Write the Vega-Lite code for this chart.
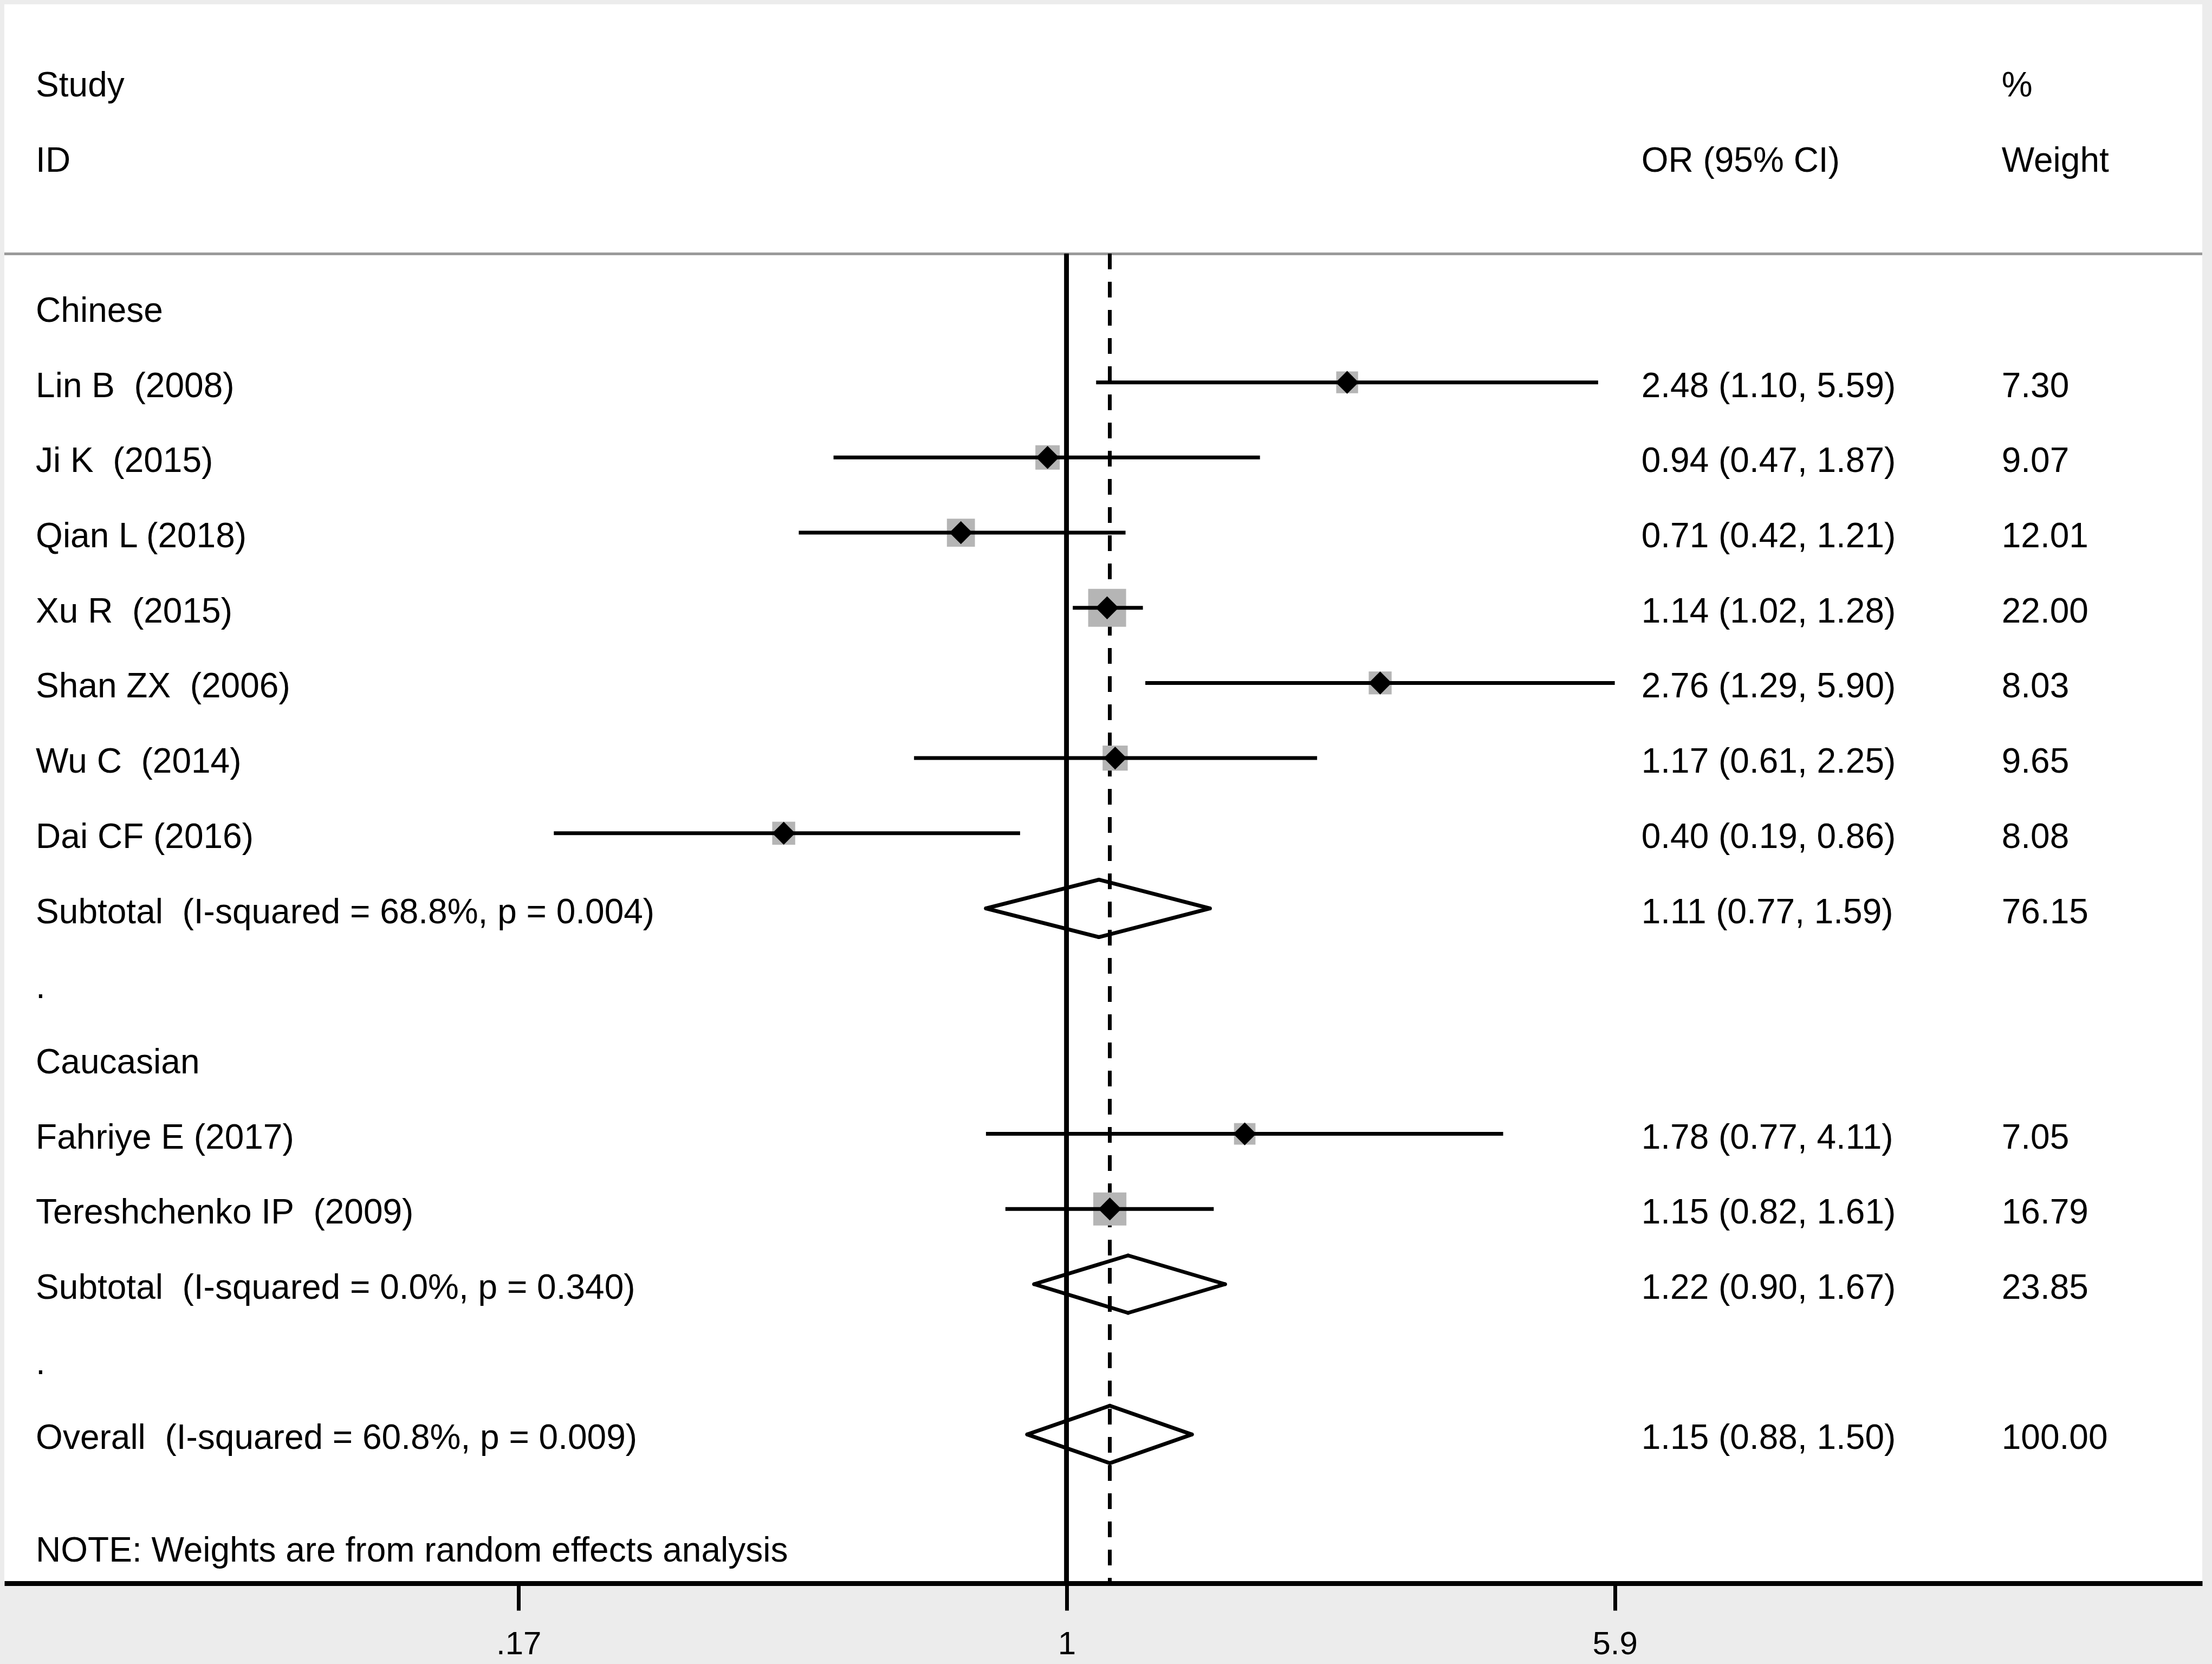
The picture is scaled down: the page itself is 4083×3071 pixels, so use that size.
{
  "$schema": "https://vega.github.io/schema/vega-lite/v6.json",
  "width": 4057,
  "height": 2914,
  "autosize": {"type": "none"},
  "padding": {"left": 8, "top": 8, "right": 18, "bottom": 149},
  "background": "#ececec",
  "view": {"fill": "white", "stroke": null},
  "config": {
    "font": "Liberation Sans",
    "text": {"font": "Liberation Sans", "fontSize": 64, "color": "black", "align": "left", "baseline": "middle", "dy": 8},
    "axisX": {"title": null, "grid": false, "domainColor": "black", "domainWidth": 9, "tickColor": "black", "tickWidth": 7, "tickSize": 50, "labelFontSize": 60, "labelColor": "black", "labelFont": "Liberation Sans", "labelPadding": 33, "labelFlush": false, "labelOverlap": false},
    "axisY": {"disable": true}
  },
  "encoding": {
    "y": {"field": "row", "type": "quantitative", "scale": {"domain": [-3.03, 17.98], "reverse": true, "nice": false, "zero": false}, "axis": null}
  },
  "data": {
    "values": [
      {"row": -2, "label": "Study", "wtxt": "%"},
      {"row": -1, "label": "ID", "ci": "OR (95% CI)", "wtxt": "Weight"},
      {"row": 1, "label": "Chinese"},
      {"row": 2, "type": "study", "label": "Lin B\u00a0 (2008)", "or": 2.48, "lo": 1.10, "hi": 5.59, "w": 7.30, "ci": "2.48 (1.10, 5.59)", "wtxt": "7.30"},
      {"row": 3, "type": "study", "label": "Ji K\u00a0 (2015)", "or": 0.94, "lo": 0.47, "hi": 1.87, "w": 9.07, "ci": "0.94 (0.47, 1.87)", "wtxt": "9.07"},
      {"row": 4, "type": "study", "label": "Qian L (2018)", "or": 0.71, "lo": 0.42, "hi": 1.21, "w": 12.01, "ci": "0.71 (0.42, 1.21)", "wtxt": "12.01"},
      {"row": 5, "type": "study", "label": "Xu R\u00a0 (2015)", "or": 1.14, "lo": 1.02, "hi": 1.28, "w": 22.00, "ci": "1.14 (1.02, 1.28)", "wtxt": "22.00"},
      {"row": 6, "type": "study", "label": "Shan ZX\u00a0 (2006)", "or": 2.76, "lo": 1.29, "hi": 5.90, "w": 8.03, "ci": "2.76 (1.29, 5.90)", "wtxt": "8.03"},
      {"row": 7, "type": "study", "label": "Wu C\u00a0 (2014)", "or": 1.17, "lo": 0.61, "hi": 2.25, "w": 9.65, "ci": "1.17 (0.61, 2.25)", "wtxt": "9.65"},
      {"row": 8, "type": "study", "label": "Dai CF (2016)", "or": 0.40, "lo": 0.19, "hi": 0.86, "w": 8.08, "ci": "0.40 (0.19, 0.86)", "wtxt": "8.08"},
      {"row": 9, "type": "pooled", "label": "Subtotal\u00a0 (I-squared = 68.8%, p = 0.004)", "or": 1.11, "lo": 0.77, "hi": 1.59, "w": 76.15, "ci": "1.11 (0.77, 1.59)", "wtxt": "76.15"},
      {"row": 10, "label": "."},
      {"row": 11, "label": "Caucasian"},
      {"row": 12, "type": "study", "label": "Fahriye E (2017)", "or": 1.78, "lo": 0.77, "hi": 4.11, "w": 7.05, "ci": "1.78 (0.77, 4.11)", "wtxt": "7.05"},
      {"row": 13, "type": "study", "label": "Tereshchenko IP\u00a0 (2009)", "or": 1.15, "lo": 0.82, "hi": 1.61, "w": 16.79, "ci": "1.15 (0.82, 1.61)", "wtxt": "16.79"},
      {"row": 14, "type": "pooled", "label": "Subtotal\u00a0 (I-squared = 0.0%, p = 0.340)", "or": 1.22, "lo": 0.90, "hi": 1.67, "w": 23.85, "ci": "1.22 (0.90, 1.67)", "wtxt": "23.85"},
      {"row": 15, "label": "."},
      {"row": 16, "type": "pooled", "label": "Overall\u00a0 (I-squared = 60.8%, p = 0.009)", "or": 1.15, "lo": 0.88, "hi": 1.50, "w": 100.00, "ci": "1.15 (0.88, 1.50)", "wtxt": "100.00"},
      {"row": 17.5, "label": "NOTE: Weights are from random effects analysis"}
    ]
  },
  "layer": [
    {
      "mark": {"type": "rule", "color": "#9a9a9a", "strokeWidth": 5},
      "encoding": {
        "y": {"datum": 0.29}
      }
    },
    {
      "mark": {"type": "rule", "color": "black", "strokeWidth": 8},
      "encoding": {
        "x": {"datum": 1, "type": "quantitative", "scale": {"type": "log", "domain": [0.03206, 39.54], "nice": false}, "axis": {"values": [0.1695, 1, 5.9], "labelExpr": "datum.value < 0.5 ? '.17' : (datum.value < 2 ? '1' : '5.9')", "title": null, "zindex": 1}},
        "y": {"datum": 0.29},
        "y2": {"datum": 17.98}
      }
    },
    {
      "mark": {"type": "rule", "color": "black", "strokeWidth": 6, "strokeDash": [28, 24]},
      "encoding": {
        "x": {"datum": 1.15, "type": "quantitative", "scale": {"type": "log", "domain": [0.03206, 39.54], "nice": false}, "axis": {"values": [0.1695, 1, 5.9], "labelExpr": "datum.value < 0.5 ? '.17' : (datum.value < 2 ? '1' : '5.9')", "title": null, "zindex": 1}},
        "y": {"datum": 0.29},
        "y2": {"datum": 17.98}
      }
    },
    {
      "transform": [{"filter": "datum.type == 'study'"}],
      "mark": {"type": "point", "shape": "square", "filled": true, "color": "#b5b5b5", "opacity": 1},
      "encoding": {
        "x": {"field": "or", "type": "quantitative", "scale": {"type": "log", "domain": [0.03206, 39.54], "nice": false}, "axis": {"values": [0.1695, 1, 5.9], "labelExpr": "datum.value < 0.5 ? '.17' : (datum.value < 2 ? '1' : '5.9')", "title": null, "zindex": 1}},
        "size": {"field": "w", "type": "quantitative", "scale": {"domain": [0, 22], "range": [0, 4900], "zero": true}, "legend": null}
      }
    },
    {
      "transform": [{"filter": "datum.type == 'study'"}],
      "mark": {"type": "rule", "color": "black", "strokeWidth": 7},
      "encoding": {
        "x": {"field": "lo", "type": "quantitative", "scale": {"type": "log", "domain": [0.03206, 39.54], "nice": false}, "axis": {"values": [0.1695, 1, 5.9], "labelExpr": "datum.value < 0.5 ? '.17' : (datum.value < 2 ? '1' : '5.9')", "title": null, "zindex": 1}},
        "x2": {"field": "hi"}
      }
    },
    {
      "transform": [{"filter": "datum.type == 'study'"}],
      "mark": {"type": "point", "shape": "diamond", "filled": true, "color": "black", "opacity": 1, "size": 1800},
      "encoding": {
        "x": {"field": "or", "type": "quantitative", "scale": {"type": "log", "domain": [0.03206, 39.54], "nice": false}, "axis": {"values": [0.1695, 1, 5.9], "labelExpr": "datum.value < 0.5 ? '.17' : (datum.value < 2 ? '1' : '5.9')", "title": null, "zindex": 1}}
      }
    },
    {
      "transform": [{"filter": "datum.type == 'pooled'"}],
      "mark": {"type": "rule", "color": "black", "strokeWidth": 7, "strokeCap": "round", "y2Offset": -53},
      "encoding": {
        "x": {"field": "lo", "type": "quantitative", "scale": {"type": "log", "domain": [0.03206, 39.54], "nice": false}, "axis": {"values": [0.1695, 1, 5.9], "labelExpr": "datum.value < 0.5 ? '.17' : (datum.value < 2 ? '1' : '5.9')", "title": null, "zindex": 1}},
        "x2": {"field": "or"},
        "y2": {"field": "row"}
      }
    },
    {
      "transform": [{"filter": "datum.type == 'pooled'"}],
      "mark": {"type": "rule", "color": "black", "strokeWidth": 7, "strokeCap": "round", "y2Offset": 53},
      "encoding": {
        "x": {"field": "lo", "type": "quantitative", "scale": {"type": "log", "domain": [0.03206, 39.54], "nice": false}, "axis": {"values": [0.1695, 1, 5.9], "labelExpr": "datum.value < 0.5 ? '.17' : (datum.value < 2 ? '1' : '5.9')", "title": null, "zindex": 1}},
        "x2": {"field": "or"},
        "y2": {"field": "row"}
      }
    },
    {
      "transform": [{"filter": "datum.type == 'pooled'"}],
      "mark": {"type": "rule", "color": "black", "strokeWidth": 7, "strokeCap": "round", "yOffset": -53},
      "encoding": {
        "x": {"field": "or", "type": "quantitative", "scale": {"type": "log", "domain": [0.03206, 39.54], "nice": false}, "axis": {"values": [0.1695, 1, 5.9], "labelExpr": "datum.value < 0.5 ? '.17' : (datum.value < 2 ? '1' : '5.9')", "title": null, "zindex": 1}},
        "x2": {"field": "hi"},
        "y2": {"field": "row"}
      }
    },
    {
      "transform": [{"filter": "datum.type == 'pooled'"}],
      "mark": {"type": "rule", "color": "black", "strokeWidth": 7, "strokeCap": "round", "yOffset": 53},
      "encoding": {
        "x": {"field": "or", "type": "quantitative", "scale": {"type": "log", "domain": [0.03206, 39.54], "nice": false}, "axis": {"values": [0.1695, 1, 5.9], "labelExpr": "datum.value < 0.5 ? '.17' : (datum.value < 2 ? '1' : '5.9')", "title": null, "zindex": 1}},
        "x2": {"field": "hi"},
        "y2": {"field": "row"}
      }
    },
    {
      "transform": [{"filter": "isValid(datum.label)"}],
      "mark": {"type": "text"},
      "encoding": {
        "x": {"datum": 0.0355, "type": "quantitative", "scale": {"type": "log", "domain": [0.03206, 39.54], "nice": false}, "axis": {"values": [0.1695, 1, 5.9], "labelExpr": "datum.value < 0.5 ? '.17' : (datum.value < 2 ? '1' : '5.9')", "title": null, "zindex": 1}},
        "text": {"field": "label"}
      }
    },
    {
      "transform": [{"filter": "isValid(datum.ci)"}],
      "mark": {"type": "text"},
      "encoding": {
        "x": {"datum": 6.43, "type": "quantitative", "scale": {"type": "log", "domain": [0.03206, 39.54], "nice": false}, "axis": {"values": [0.1695, 1, 5.9], "labelExpr": "datum.value < 0.5 ? '.17' : (datum.value < 2 ? '1' : '5.9')", "title": null, "zindex": 1}},
        "text": {"field": "ci"}
      }
    },
    {
      "transform": [{"filter": "isValid(datum.wtxt)"}],
      "mark": {"type": "text"},
      "encoding": {
        "x": {"datum": 20.65, "type": "quantitative", "scale": {"type": "log", "domain": [0.03206, 39.54], "nice": false}, "axis": {"values": [0.1695, 1, 5.9], "labelExpr": "datum.value < 0.5 ? '.17' : (datum.value < 2 ? '1' : '5.9')", "title": null, "zindex": 1}},
        "text": {"field": "wtxt"}
      }
    }
  ]
}
